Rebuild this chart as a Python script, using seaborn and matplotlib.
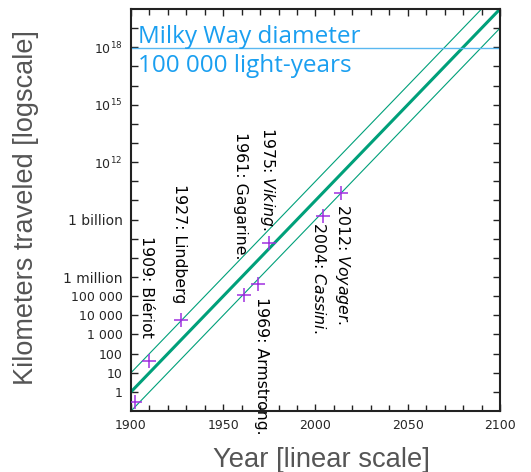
import numpy as np
import pandas as pd
import matplotlib
matplotlib.use('Agg')
import matplotlib.pyplot as plt
import seaborn as sns

# Milestones: year and distance travelled (km)
years = [1902, 1909.5, 1927, 1961, 1969, 1975, 2004, 2014]
km = [0.31, 39, 5800, 1.2e5, 4.2e5, 5.8e7, 1.5e9, 2.6e10]

# Trend lines (one decade per 10 years), central and +/- one decade
trend_years = [1900, 2100]
trend_mid = [1, 1e20]
trend_hi = [10, 1e21]
trend_lo = [0.1, 1e19]

milky_way_km = 9.46e17

label_texts = ["1909: Blériot", "1927: Lindberg", "1961: Gagarine.", r"1975: $\it{Viking}$.",
               "1969: Armstrong.", r"2004: $\it{Cassini}$.", r"2012: $\it{Voyager}$."]
label_x = [1908.5, 1926.3, 1959.4, 1974.0, 1970.7, 2002.0, 2014.6]
label_y = [10**8.13, 10**10.85, 10**13.6, 10**13.82, 10**4.94, 10**8.86, 10**9.8]

ytick_exp = list(range(0, 20))
ytick_names = {0: '1', 1: '10', 2: '100', 3: '1 000', 4: '10 000', 5: '100 000',
               6: '1 million', 9: '1 billion', 12: r'$10^{12}$', 15: r'$10^{15}$',
               18: r'$10^{18}$'}

GREEN = '#00a07a'
PURPLE = '#a030e0'
BLUE = '#1a9ff0'
GREY = '#555555'

sns.set_theme(style="ticks")
plt.rcParams['font.family'] = ['DejaVu Sans']
plt.rcParams['mathtext.fontset'] = 'custom'
plt.rcParams['mathtext.rm'] = 'DejaVu Sans'
plt.rcParams['mathtext.it'] = 'DejaVu Sans:italic'

fig = plt.figure(figsize=(5.31, 4.72), dpi=100)
ax = fig.add_axes([0.2467, 0.1292, 0.6949, 0.8517])

trend = pd.DataFrame({'year': trend_years * 3,
                      'km': trend_mid + trend_hi + trend_lo,
                      'line': ['mid'] * 2 + ['hi'] * 2 + ['lo'] * 2})
sns.lineplot(data=trend, x='year', y='km', hue='line', size='line',
             sizes={'mid': 2.2, 'hi': 0.8, 'lo': 0.8},
             palette={'mid': GREEN, 'hi': GREEN, 'lo': GREEN},
             legend=False, ax=ax)

ax.axhline(milky_way_km, color='#5ab8f0', lw=1.0)
sns.scatterplot(x=years, y=km, marker='+', s=100, color=PURPLE, linewidth=1.1, ax=ax, zorder=5)

ax.set_yscale('log')
ax.set_xlim(1900, 2100)
ax.set_ylim(0.1, 1e20)

ax.set_xticks([1900, 1950, 2000, 2050, 2100])
ax.set_xticks(np.arange(1900, 2101, 10), minor=True)
ax.set_yticks([10.0**e for e in ytick_exp])
ax.set_yticklabels([ytick_names.get(e, '') for e in ytick_exp])
ax.yaxis.set_minor_locator(matplotlib.ticker.NullLocator())
for e, lab in zip(ytick_exp, ax.get_yticklabels()):
    lab.set_fontsize(10 if e in (6, 9) else 9)
for lab in ax.get_xticklabels():
    lab.set_fontsize(9)
ax.tick_params(which='both', direction='in', top=True, right=True, length=5, width=1, color='#222222')
ax.tick_params(axis='x', which='minor', length=4)
ax.tick_params(axis='both', pad=6)
for sp in ax.spines.values():
    sp.set_color('#222222')
    sp.set_linewidth(1.5)

ax.text(1904, 1.6e18, 'Milky Way diameter', color=BLUE, fontsize=17.5,
        family=['Open Sans', 'DejaVu Sans'], ha='left', va='baseline')
ax.text(1904, 4.9e16, '100 000 light-years', color=BLUE, fontsize=17.5,
        family=['Open Sans', 'DejaVu Sans'], ha='left', va='baseline')

for t, x, y in zip(label_texts, label_x, label_y):
    ax.text(x, y, t, rotation=-90, ha='center', va='top', fontsize=11.3,
            color='black', clip_on=False)

ax.set_xlabel('Year [linear scale]', fontsize=19.7, color=GREY, family=['Liberation Sans'])
ax.set_ylabel('Kilometers traveled [logscale]', fontsize=19.5, color=GREY, family=['Liberation Sans'])
ax.xaxis.set_label_coords(0.517, -0.09)
ax.yaxis.set_label_coords(-0.25, 0.506)

fig.savefig('out.png', dpi=100)
